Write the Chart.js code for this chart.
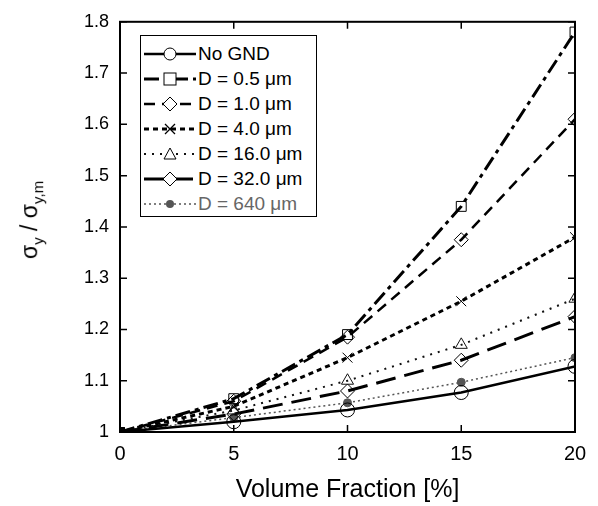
<!DOCTYPE html>
<html>
<head>
<meta charset="utf-8">
<script src="https://cdn.jsdelivr.net/npm/chart.js@4.4.1/dist/chart.umd.min.js"></script>
<style>
  body { margin: 0; background: #fff; }
  #wrap { position: relative; width: 598px; height: 506px; font-family: "Liberation Sans", Arial, sans-serif; }
  #ytitle { position: absolute; left: 31px; top: 220px; transform: translate(-50%, -50%) rotate(-90deg); font-size: 23px; white-space: nowrap; color: #000; }
  #ytitle sub { font-size: 15px; }
  #legend { position: absolute; left: 140px; top: 35px; width: 177px; height: 182px; border: 1px solid #000; background: #fff; box-sizing: border-box; padding-top: 5px; overflow: hidden; }
  .row { display: flex; align-items: center; height: 25px; font-size: 19px; white-space: nowrap; }
  .row svg { margin-left: 2px; margin-right: 1px; flex: none; }
</style>
</head>
<body>
<div id="wrap">
  <canvas id="myChart" width="598" height="506"></canvas>
  <div id="ytitle">σ<sub>y</sub> / σ<sub>y,m</sub></div>
  <div id="legend"></div>
</div>
<script>
const fractions = [0, 5, 10, 15, 20];
const labels = ['No GND', 'D = 0.5 μm', 'D = 1.0 μm', 'D = 4.0 μm', 'D = 16.0 μm', 'D = 32.0 μm', 'D = 640 μm'];
const noGnd = [1, 1.02, 1.043, 1.077, 1.128];
const d05 = [1, 1.065, 1.19, 1.44, 1.78];
const d10 = [1, 1.06, 1.185, 1.375, 1.61];
const d40 = [1, 1.05, 1.145, 1.255, 1.38];
const d160 = [1, 1.042, 1.1, 1.17, 1.26];
const d320 = [1, 1.035, 1.08, 1.14, 1.225];
const d640 = [1, 1.028, 1.057, 1.097, 1.145];
const yTicks = [1, 1.1, 1.2, 1.3, 1.4, 1.5, 1.6, 1.7, 1.8];
const xTicks = [0, 5, 10, 15, 20];

const series = [noGnd, d05, d10, d40, d160, d320, d640];
const styles = [
    { dash: [], width: 2.5, color: '#000', point: 'circle', fill: 'rgba(255,255,255,0)' },
    { dash: [15, 5, 4, 5], width: 3, color: '#000', point: 'rect', fill: 'rgba(255,255,255,0)' },
    { dash: [11, 7], width: 2.5, color: '#000', point: 'rectRot', fill: 'rgba(255,255,255,0)' },
    { dash: [5, 4], width: 3, color: '#000', point: 'crossRot', fill: 'rgba(255,255,255,0)' },
    { dash: [2, 6], width: 2, color: '#111', point: 'triangle', fill: 'rgba(255,255,255,0)' },
    { dash: [20, 9], width: 3, color: '#000', point: 'rectRot', fill: 'rgba(255,255,255,0)' },
    { dash: [2, 3], width: 1.5, color: '#555', point: 'circle', fill: '#555' }
];

// every curve starts at the same point, drawn as a black block like the original
const datasets = series.map((vals, i) => ({
    label: labels[i],
    data: vals.map((v, j) => ({ x: fractions[j], y: v })),
    borderColor: styles[i].color,
    borderWidth: styles[i].width,
    borderDash: styles[i].dash,
    pointStyle: c => c.dataIndex == 0 ? 'rect' : styles[i].point,
    pointRadius: c => c.dataIndex == 0 ? 6 : (i == 6 ? 4 : 7),
    pointBorderWidth: 1,
    pointBackgroundColor: c => c.dataIndex == 0 ? '#000' : styles[i].fill,
    pointBorderColor: c => c.dataIndex == 0 ? '#000' : styles[i].color,
    tension: 0,
    fill: false
}));

// frame and inward tick marks
const frame = {
    id: 'frame',
    afterDraw(chart) {
        const c = chart.ctx, a = chart.chartArea;
        const x = chart.scales.x, y = chart.scales.y;
        c.save();
        c.strokeStyle = '#000';
        c.lineWidth = 2;
        c.setLineDash([]);
        c.strokeRect(a.left, a.top, a.right - a.left, a.bottom - a.top);
        c.lineWidth = 1.5;
        c.beginPath();
        yTicks.forEach(t => {
            const py = y.getPixelForValue(t);
            c.moveTo(a.left, py); c.lineTo(a.left + 7, py);
            c.moveTo(a.right, py); c.lineTo(a.right - 7, py);
        });
        xTicks.forEach(t => {
            const px = x.getPixelForValue(t);
            c.moveTo(px, a.bottom); c.lineTo(px, a.bottom - 7);
            c.moveTo(px, a.top); c.lineTo(px, a.top + 7);
        });
        c.stroke();
        c.restore();
    }
};

const ctx = document.getElementById('myChart');

new Chart(ctx, {
    type: 'line',
    data: { datasets: datasets },
    options: {
        responsive: false,
        animation: false,
        layout: { padding: { top: 15, right: 23, left: 0, bottom: 0 } },
        plugins: { legend: { display: false }, tooltip: { enabled: false } },
        scales: {
            x: {
                type: 'linear',
                min: 0,
                max: 20,
                afterBuildTicks: s => { s.ticks = xTicks.map(v => ({ value: v })); },
                grid: { display: false, drawTicks: false },
                border: { display: false },
                ticks: { color: '#000', font: { family: 'Liberation Sans', size: 20 }, padding: 10, maxRotation: 0, callback: v => String(v) },
                title: { display: true, text: 'Volume Fraction [%]', color: '#000', font: { family: 'Liberation Sans', size: 25 }, padding: { top: 0, bottom: 1 } },
                afterFit: s => { s.height = 74; }
            },
            y: {
                min: 1,
                max: 1.8,
                afterBuildTicks: s => { s.ticks = yTicks.map(v => ({ value: v })); },
                grid: { display: false, drawTicks: false },
                border: { display: false },
                ticks: { color: '#000', font: { family: 'Liberation Sans', size: 18 }, padding: 11, callback: v => String(+v.toFixed(1)) },
                afterFit: s => { s.width = 120; }
            }
        }
    },
    plugins: [frame]
});

// legend built from the same styles
const legend = document.getElementById('legend');
const markerSvg = (i) => {
    const s = styles[i], cx = 27, cy = 10;
    if (s.point == 'circle' && i == 6) return `<circle cx="${cx}" cy="${cy}" r="4" fill="${s.color}"/>`;
    if (s.point == 'circle') return `<circle cx="${cx}" cy="${cy}" r="6" fill="white" stroke="#000"/>`;
    if (s.point == 'rect') return `<rect x="${cx - 6}" y="${cy - 6}" width="12" height="12" fill="white" stroke="#000"/>`;
    if (s.point == 'rectRot') return `<polygon points="${cx},${cy - 7} ${cx + 7},${cy} ${cx},${cy + 7} ${cx - 7},${cy}" fill="white" stroke="#000"/>`;
    if (s.point == 'crossRot') return `<path d="M${cx - 5} ${cy - 5}L${cx + 5} ${cy + 5}M${cx + 5} ${cy - 5}L${cx - 5} ${cy + 5}" stroke="#000" stroke-width="1.3"/>`;
    if (s.point == 'triangle') return `<polygon points="${cx},${cy - 6} ${cx + 6},${cy + 5} ${cx - 6},${cy + 5}" fill="white" stroke="#000"/>`;
    return '';
};
labels.forEach((lab, i) => {
    const s = styles[i];
    const row = document.createElement('div');
    row.className = 'row';
    row.style.color = i == 6 ? '#666' : '#000';
    row.innerHTML = `<svg width="54" height="20"><line x1="1" y1="10" x2="53" y2="10" stroke="${s.color}" stroke-width="${s.width}" stroke-dasharray="${s.dash.join(' ')}"/>${markerSvg(i)}</svg><span>${lab}</span>`;
    legend.appendChild(row);
});
</script>
</body>
</html>
